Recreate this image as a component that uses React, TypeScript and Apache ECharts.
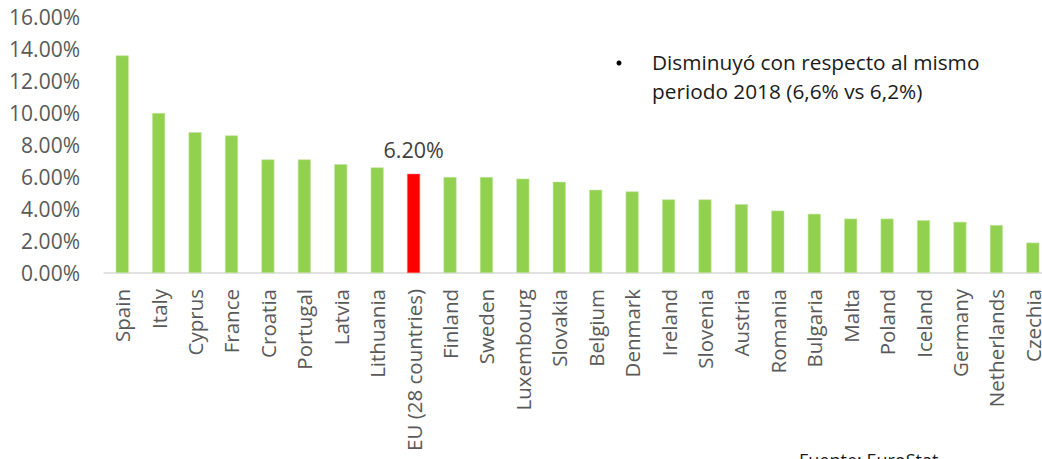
import React, { useEffect, useRef } from "react";
import * as echarts from "echarts";

const categories = ["Spain","Italy","Cyprus","France","Croatia","Portugal","Latvia","Lithuania","EU (28 countries)","Finland","Sweden","Luxembourg","Slovakia","Belgium","Denmark","Ireland","Slovenia","Austria","Romania","Bulgaria","Malta","Poland","Iceland","Germany","Netherlands","Czechia"];
const values = [13.6,10.0,8.8,8.6,7.1,7.1,6.8,6.6,6.2,6.0,6.0,5.9,5.7,5.2,5.1,4.6,4.6,4.3,3.9,3.7,3.4,3.4,3.3,3.2,3.0,1.9];
const highlight = "EU (28 countries)";
const yTicks = [0, 2, 4, 6, 8, 10, 12, 14, 16];
const noteLines = ["Disminuyó con respecto al mismo", "periodo 2018 (6,6% vs 6,2%)"];
const sourceText = "Fuente: EuroStat";

export default function App() {
  const ref = useRef<HTMLDivElement>(null);
  useEffect(() => {
    const chart = echarts.init(ref.current!, null, { renderer: "svg" });
    const font = "'Open Sans', sans-serif";
    chart.setOption({
      animation: false,
      grid: { left: 104, top: 17, width: 947, height: 256, containLabel: false },
      xAxis: {
        type: "category",
        data: categories,
        axisLine: { show: true, lineStyle: { color: "#d9d9d9", width: 1.5 } },
        axisTick: { show: false },
        axisLabel: {
          rotate: 90,
          interval: 0,
          margin: 16,
          color: "#595959",
          fontSize: 20.5,
          fontFamily: font,
        },
      },
      yAxis: {
        type: "value",
        min: yTicks[0],
        max: yTicks[yTicks.length - 1],
        interval: 2,
        splitLine: { show: false },
        axisLine: { show: false },
        axisTick: { show: false },
        axisLabel: {
          margin: 24,
          color: "#595959",
          fontSize: 21,
          fontFamily: font,
          formatter: (v: number) => v.toFixed(2) + "%",
        },
      },
      series: [
        {
          type: "bar",
          barWidth: 13,
          data: categories.map((c, i) => ({
            value: values[i],
            itemStyle: {
              color: c === highlight ? "#ff0000" : "#92d050",
              borderColor: c === highlight ? "#ff6060" : "#c3e6a0",
              borderWidth: 0.6,
            },
            label: c === highlight
              ? {
                  show: true,
                  position: "top",
                  distance: 13,
                  formatter: (p: any) => p.value.toFixed(2) + "%",
                  color: "#404040",
                  fontSize: 21.5,
                  fontFamily: font,
                }
              : { show: false },
          })),
        },
      ],
      graphic: [
        {
          type: "circle",
          shape: { cx: 619, cy: 63, r: 2.5 },
          style: { fill: "#000" },
        },
        {
          type: "text",
          x: 652,
          y: 62,
          style: {
            text: noteLines[0],
            fill: "#1a1a1a",
            fontSize: 20.8,
            fontFamily: font,
            verticalAlign: "middle",
          },
        },
        {
          type: "text",
          x: 652,
          y: 91,
          style: {
            text: noteLines[1],
            fill: "#1a1a1a",
            fontSize: 20.8,
            fontFamily: font,
            verticalAlign: "middle",
          },
        },
        {
          type: "text",
          x: 799,
          y: 451,
          style: {
            text: sourceText,
            fill: "#1a1a1a",
            fontSize: 18,
            fontFamily: font,
            verticalAlign: "top",
          },
        },
      ],
    });
    return () => chart.dispose();
  }, []);
  return (
    <div
      ref={ref}
      style={{ position: "fixed", left: 0, top: 0, width: 1060, height: 459, background: "#fff" }}
    />
  );
}
